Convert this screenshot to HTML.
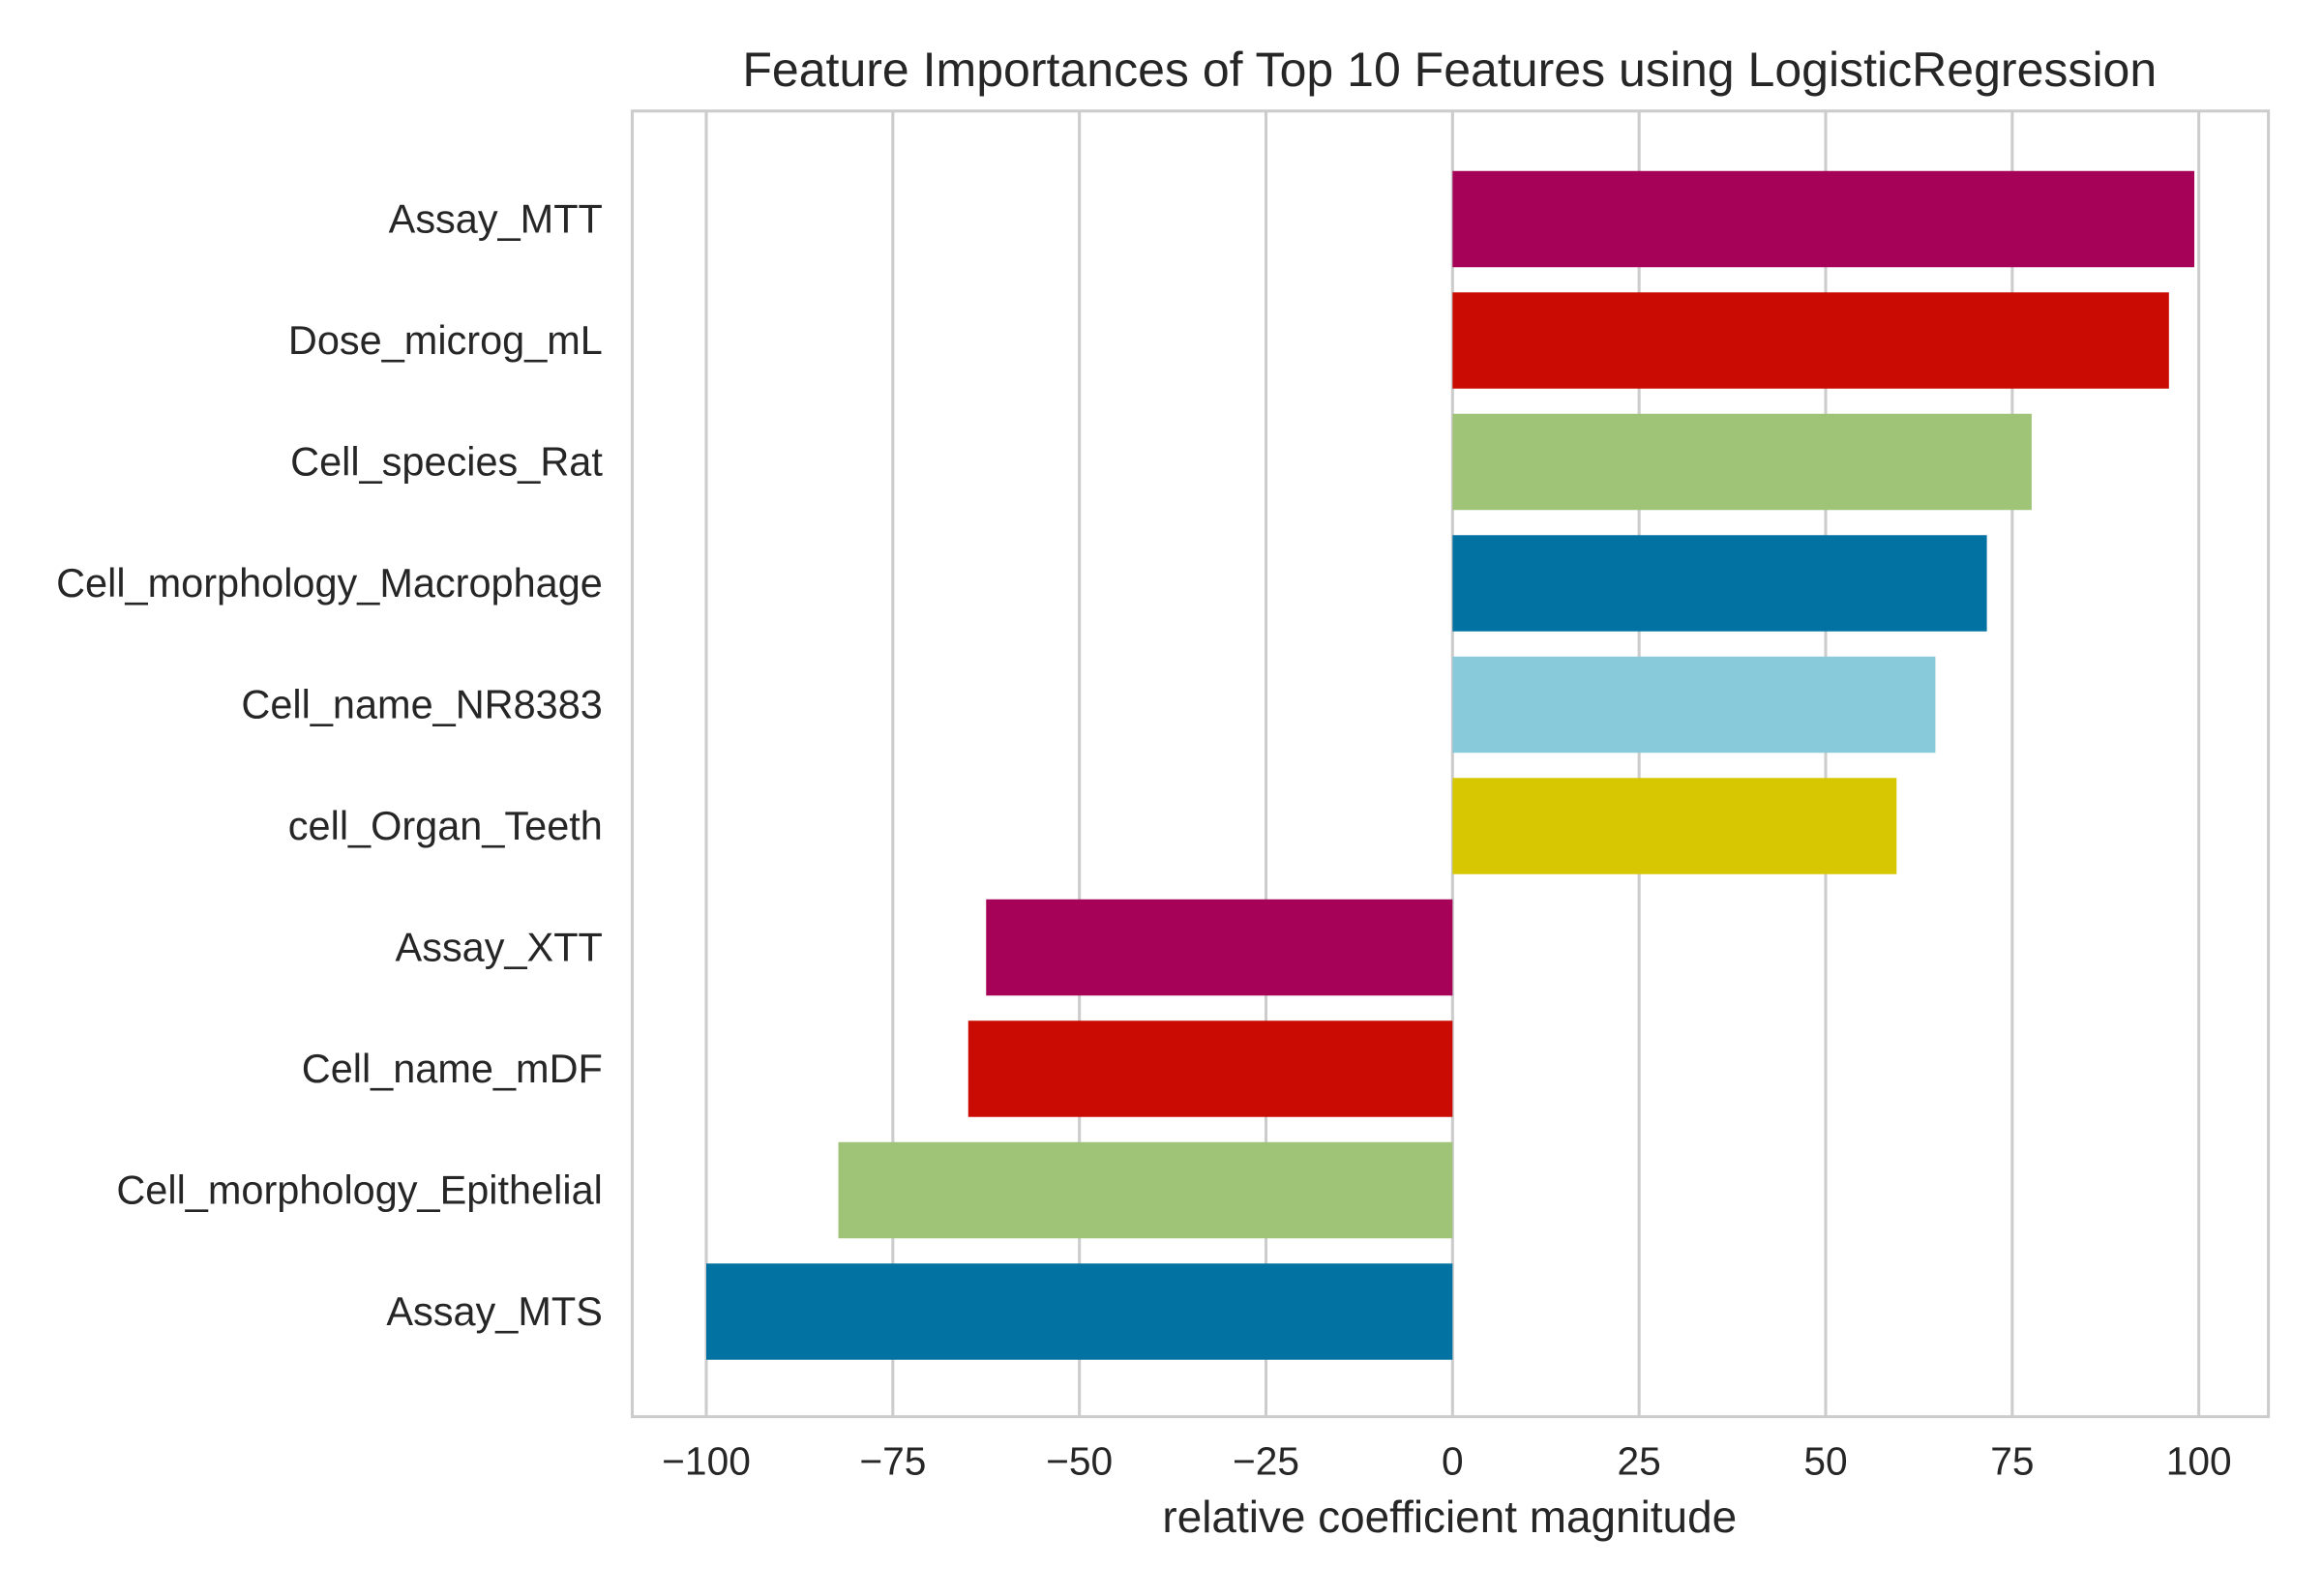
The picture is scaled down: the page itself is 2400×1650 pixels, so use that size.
<!DOCTYPE html>
<html><head><meta charset="utf-8"><style>
html,body{margin:0;padding:0;background:#fff;}
svg{display:block;font-family:"Liberation Sans",Arial,sans-serif;}
</style></head><body>
<svg id="chart" width="2400" height="1650" viewBox="0 0 1568.2 1078.1" preserveAspectRatio="none" xmlns="http://www.w3.org/2000/svg">
<rect x="0" y="0" width="1568.2" height="1078.1" fill="#fff"/>
<text x="979" y="58" font-size="32.7" fill="#262626" text-anchor="middle">Feature Importances of Top 10 Features using LogisticRegression</text>
<g id="grid"></g>
<g id="bars"></g>
<g id="ylabels"></g>
<g id="xticks"></g>
<rect x="427" y="75" width="1105" height="882" fill="none" stroke="#cccccc" stroke-width="2"/>
<text x="979" y="1035" font-size="30" fill="#262626" text-anchor="middle">relative coefficient magnitude</text>
</svg>
<script>
const categories = ["Assay_MTT","Dose_microg_mL","Cell_species_Rat","Cell_morphology_Macrophage","Cell_name_NR8383","cell_Organ_Teeth","Assay_XTT","Cell_name_mDF","Cell_morphology_Epithelial","Assay_MTS"];
const values = [99.4, 96.0, 77.6, 71.6, 64.7, 59.5, -62.5, -64.9, -82.3, -100];
const colors = ["#a50258","#ca0b03","#9fc377","#0272a2","#88cada","#d7c703","#a50258","#ca0b03","#9fc377","#0272a2"];
const tickValues = [-100,-75,-50,-25,0,25,50,75,100];
const tickLabels = ["\u2212100","\u221275","\u221250","\u221225","0","25","50","75","100"];

const NS="http://www.w3.org/2000/svg";
const xScale = v => 981 + v*5.04;
const yCenter = i => 148 + i*82;
const barH = 65;
function mk(tag, attrs, parent){const e=document.createElementNS(NS,tag);for(const k in attrs)e.setAttribute(k,attrs[k]);document.getElementById(parent).appendChild(e);return e;}

tickValues.forEach((t,i)=>{
  const g=mk("line",{x1:xScale(t),x2:xScale(t),y1:75,y2:957,stroke:"#cccccc","stroke-width":2},"grid");
  
  
  const tx=mk("text",{x:xScale(t),y:996,"font-size":26.6,fill:"#262626","text-anchor":"middle"},"xticks");
  tx.textContent=tickLabels[i];
  
  
});
categories.forEach((c,i)=>{
  const v=values[i];
  const x0=xScale(Math.min(0,v)), x1=xScale(Math.max(0,v));
  const r=mk("rect",{x:x0,y:yCenter(i)-barH/2,width:x1-x0,height:barH,fill:colors[i]},"bars");
  
  
  const t=mk("text",{x:407,y:yCenter(i)+9,"font-size":27.1,fill:"#262626","text-anchor":"end"},"ylabels");
  t.textContent=c;
  
  
});
</script>
</body></html>
